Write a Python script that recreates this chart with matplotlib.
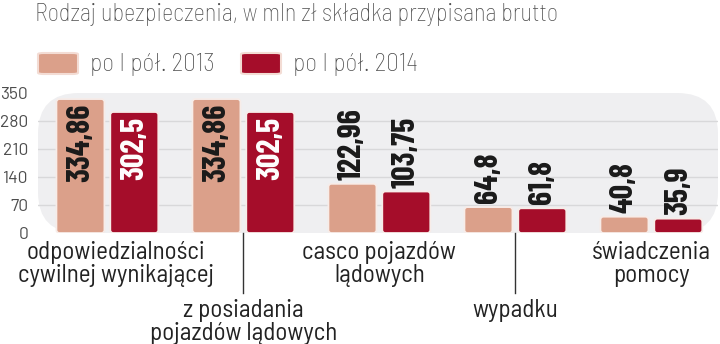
import matplotlib
matplotlib.use('Agg')
import matplotlib.pyplot as plt
from matplotlib.patches import FancyBboxPatch
import numpy as np

# premium written, mln zl, by insurance type
categories = ['odpowiedzialności\ncywilnej wynikającej',
              'z posiadania\npojazdów lądowych',
              'casco pojazdów\nlądowych',
              'wypadku',
              'świadczenia\npomocy']
label_level = [0, 1, 0, 1, 0]   # 0 = first row under the bars, 1 = second row
vals_2013 = [334.86, 334.86, 122.96, 64.8, 40.8]
vals_2014 = [302.5, 302.5, 103.75, 61.8, 35.9]
series_names = ['po I pół. 2013', 'po I pół. 2014']
yticks = [0, 70, 140, 210, 280, 350]

col_2013 = '#dba08a'
col_2014 = '#a50d2a'
grey_txt = '#4d4d4d'
FONT = ['Barlow Condensed', 'Archivo Narrow', 'DejaVu Sans']
FONT_SEMI = ['Barlow Semi Condensed', 'Barlow Condensed', 'DejaVu Sans']
FONT_TICK = ['Barlow', 'Barlow Condensed', 'DejaVu Sans']

fig = plt.figure(figsize=(7.2, 3.44), dpi=100)
ax = fig.add_axes([38/720, 1-233/344, 680/720, 140/344])
ax.set_xlim(-0.51, 4.49)
ax.set_ylim(0, 350)

# rounded grey panel behind the bars
panel = FancyBboxPatch((0, 0), 1, 1, boxstyle='round,pad=0,rounding_size=0.06',
                       transform=ax.transAxes, facecolor='#efeff1', edgecolor='none',
                       mutation_aspect=680/140, zorder=0, clip_on=False)
ax.add_patch(panel)
for t in yticks[1:-1]:
    ax.axhline(t, color='#d8d8da', lw=1, zorder=1)

for s in ax.spines.values():
    s.set_visible(False)
ax.set_xticks([])
ax.set_yticks(yticks)
ax.set_yticklabels([str(t) for t in yticks], fontsize=12.5, color=grey_txt, family=FONT_TICK)
ax.tick_params(axis='y', length=0, pad=7)

bw = 0.353
off = 0.198
# px -> data units, used to keep the bar corners round
ux = 4.99 / 680
uy = 350 / 140
aspect = uy / ux

def rbar(xc, h, color):
    p = FancyBboxPatch((xc - bw/2, 0), bw, h,
                       boxstyle='round,pad=0,rounding_size=%f' % (3*ux),
                       mutation_aspect=aspect, facecolor=color,
                       edgecolor='#f7ece8', lw=1.3, zorder=3)
    ax.add_patch(p)

x = np.arange(len(categories))
for i in x:
    for v, dx, col, inside_col in [(vals_2013[i], -off, col_2013, '#1a1a1a'),
                                   (vals_2014[i], off, col_2014, 'white')]:
        rbar(i + dx, v, col)
        txt = ('%g' % v).replace('.', ',')
        if v > 200:
            ax.text(i + dx, v - 5*uy, txt, rotation=90, ha='center', va='top',
                    fontsize=23, fontweight='bold', color=inside_col, family=FONT, zorder=4)
        else:
            ax.text(i + dx, v + 4*uy, txt, rotation=90, ha='center', va='bottom',
                    fontsize=23, fontweight='bold', color='#1a1a1a', family=FONT, zorder=4)

# category names in two staggered rows
for i, name in enumerate(categories):
    xl = i + (9*ux if i == 0 else 0)   # keep the first name clear of the axis numbers
    if label_level[i] == 0:
        ax.text(xl, -8*uy, name, ha='center', va='top', fontsize=18, color='#222222',
                family=FONT_SEMI, linespacing=1.0, clip_on=False)
    else:
        ax.plot([i, i], [0, -60*uy], color='#333333', lw=1, clip_on=False, zorder=2)
        ax.text(xl, -66*uy, name, ha='center', va='top', fontsize=18, color='#222222',
                family=FONT_SEMI, linespacing=1.0, clip_on=False)

fig.text(35/720, 1-14/344, 'Rodzaj ubezpieczenia, w mln zł składka przypisana brutto',
         ha='left', va='center', fontsize=17.5, fontweight='light', color=grey_txt,
         family=FONT_SEMI)

# legend
leg_x = [38/720, 241/720]
for lx, name, col in zip(leg_x, series_names, [col_2013, col_2014]):
    sq = FancyBboxPatch((lx, 1-74/344), 40/720, 21/344,
                        boxstyle='round,pad=0,rounding_size=0.008',
                        transform=fig.transFigure, facecolor=col, edgecolor='#f3dcd4',
                        lw=1.5, mutation_aspect=344/720)
    fig.patches.append(sq)
    fig.text(lx + 52/720, 1-64/344, name, ha='left', va='center', fontsize=18.3,
             fontweight='light', color=grey_txt, family=FONT_SEMI)

fig.savefig('out.png', dpi=100, facecolor='white')
